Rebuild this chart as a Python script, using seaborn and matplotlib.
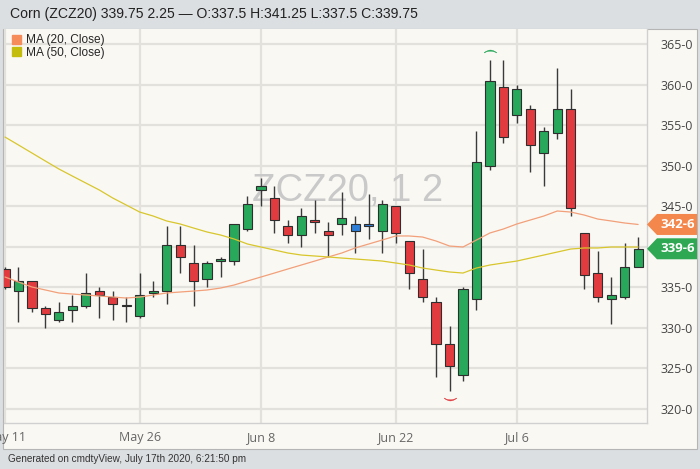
import numpy as np
import pandas as pd
import matplotlib
matplotlib.use('Agg')
import matplotlib.pyplot as plt
import seaborn as sns
from matplotlib.patches import Rectangle, Polygon, Patch

# trading days shown (Memorial Day and Jul 3 closed)
days = pd.bdate_range('2020-05-11', '2020-07-17')
days = days.drop(pd.to_datetime(['2020-05-25', '2020-07-03']))

opens = [337.25, 334.5, 335.75, 332.5, 331.0, 332.25, 332.75, 334.5, 333.75, 332.75,
         331.5, 334.25, 334.5, 340.25, 338.0, 336.0, 338.25, 338.25, 342.25, 347.0,
         346.0, 342.5, 341.5, 343.25, 342.0, 342.75, 342.75, 342.75, 342.0, 345.0,
         340.75, 336.0, 333.25, 328.0, 324.25, 333.5, 350.0, 359.75, 356.25, 357.0,
         351.5, 354.0, 357.0, 341.75, 336.75, 333.5, 333.75, 337.5]
highs = [337.5, 337.5, 335.75, 332.75, 333.25, 334.0, 336.75, 335.0, 334.5, 333.75,
         336.75, 335.75, 342.5, 342.5, 340.25, 338.25, 338.75, 342.75, 346.25, 348.5,
         347.5, 343.25, 344.75, 345.75, 343.0, 346.75, 343.75, 346.5, 345.75, 345.0,
         340.75, 339.75, 333.75, 330.25, 335.0, 354.25, 363.0, 363.0, 360.0, 357.5,
         354.75, 362.0, 359.5, 341.75, 339.5, 336.25, 340.5, 341.25]
lows = [334.75, 330.75, 332.0, 330.0, 330.75, 330.75, 332.5, 331.25, 331.0, 330.75,
        331.25, 333.75, 333.0, 336.75, 332.75, 335.0, 336.25, 337.75, 342.0, 345.0,
        341.75, 340.5, 340.0, 341.75, 338.75, 341.5, 339.25, 341.0, 339.25, 340.5,
        334.75, 333.25, 324.0, 322.25, 323.5, 332.25, 349.5, 352.75, 355.25, 349.25,
        347.5, 353.25, 343.75, 334.75, 333.25, 330.5, 333.5, 337.5]
closes = [335.0, 335.75, 332.5, 331.75, 332.0, 332.75, 334.25, 334.0, 333.0, 332.75,
          334.0, 334.5, 340.25, 338.75, 335.75, 338.0, 338.5, 342.75, 345.25, 347.5,
          343.25, 341.5, 343.75, 343.0, 341.5, 343.5, 342.0, 342.5, 345.25, 341.75,
          336.75, 333.75, 328.0, 325.25, 334.75, 350.5, 360.5, 353.5, 359.5, 352.5,
          354.25, 357.0, 344.75, 336.5, 333.75, 334.0, 337.5, 339.75]
blue_days = [26, 27]

ma20 = [336.27, 335.65, 335.04, 334.67, 334.30, 334.17, 334.05, 333.93, 333.80, 333.68,
        333.80, 334.05, 334.30, 334.42, 334.54, 334.67, 334.91, 335.28, 335.78, 336.27,
        336.76, 337.26, 337.75, 338.24, 338.74, 339.23, 339.85, 340.34, 340.83, 341.33,
        341.33, 341.20, 340.71, 340.09, 339.97, 340.83, 341.70, 342.19, 342.81, 343.30,
        343.79, 344.41, 344.28, 343.91, 343.42, 343.18, 342.93, 342.75]
ma50 = [353.53, 352.55, 351.56, 350.57, 349.59, 348.72, 347.86, 347.00, 346.01, 345.15,
        344.28, 343.79, 343.18, 342.81, 342.31, 341.82, 341.45, 340.96, 340.34, 339.97,
        339.60, 339.23, 338.98, 338.86, 338.74, 338.61, 338.49, 338.37, 338.24, 338.00,
        337.75, 337.38, 337.13, 336.89, 336.76, 337.38, 337.75, 338.00, 338.24, 338.61,
        338.98, 339.35, 339.72, 339.85, 339.85, 339.97, 339.97, 339.97]

tick_dates = ['2020-05-11', '2020-05-26', '2020-06-08', '2020-06-22', '2020-07-06']

df = pd.DataFrame({'date': days, 'open': opens, 'high': highs, 'low': lows,
                   'close': closes, 'ma20': ma20, 'ma50': ma50})
df['x'] = np.arange(len(df))

sns.set_theme(style='white')
plt.rcParams['font.family'] = ['Liberation Sans', 'DejaVu Sans']

W, H = 700, 469
panel_bg = '#faf8f3'
fig = plt.figure(figsize=(7, 4.69), dpi=100, facecolor='#dcdfe2')
fig.patches.append(Rectangle((3 / W, 1 - 449 / H), 694 / W, 420 / H, transform=fig.transFigure,
                             facecolor=panel_bg, edgecolor='#b5b5b5', lw=0.8, zorder=-5))

ax = fig.add_axes([4 / W, 1 - 423 / H, 643 / W, 394 / H], facecolor=panel_bg)
ax.set_zorder(2)

# candle colours
cols = []
for i, r in df.iterrows():
    if i in blue_days:
        cols.append('#2f7fd8')
    elif r['close'] > r['open']:
        cols.append('#27a85a')
    elif r['close'] < r['open']:
        cols.append('#e23b3f')
    else:
        cols.append('#3a3a3a')

body_lo = np.minimum(df['open'], df['close'])
body_h = np.maximum(np.abs(df['close'] - df['open']), 0.12)

ax.vlines(df['x'], df['low'], df['high'], color='#3a3a3a', lw=1.0, zorder=2)
ax.bar(df['x'], body_h, bottom=body_lo, width=0.68, color=cols,
       edgecolor='#2e2e2e', linewidth=0.8, zorder=3)

sns.lineplot(data=df, x='x', y='ma20', color='#f2a07a', lw=0.9, ax=ax, zorder=4)
sns.lineplot(data=df, x='x', y='ma50', color='#d8c62c', lw=0.9, ax=ax, zorder=4)

# high / low markers
hi = int(np.argmax(df['high']))
lo = int(np.argmin(df['low']))
ax.plot(hi, df['high'][hi] + 1.1, marker=r'$\frown$', ms=9, color='#27a85a', mew=0.3)
ax.plot(lo, df['low'][lo] - 1.0, marker=r'$\smile$', ms=9, color='#e23b3f', mew=0.3)

ax.set_xlim(-0.074, 47.66)
ax.set_ylim(318.27, 366.85)

# grid; the 340 label sits under the price tags
yt = np.arange(320, 366, 5)
ax.set_yticks(yt)
ax.set_yticklabels(['' if v == 340 else f'{int(v)}-0' for v in yt])
xt = [int(np.where(days == pd.Timestamp(d))[0][0]) for d in tick_dates]
ax.set_xticks(xt)
ax.set_xticklabels([pd.Timestamp(d).strftime('%b %-d') for d in tick_dates])
ax.yaxis.tick_right()
ax.grid(True, color='#e3e1dc', lw=1.6)
ax.set_axisbelow(True)
ax.tick_params(axis='y', length=0, pad=10, labelsize=9, labelcolor='#444444')
ax.tick_params(axis='x', length=0, pad=6, labelsize=9, labelcolor='#666666')
for lab in ax.get_xticklabels() + ax.get_yticklabels():
    lab.set_family('Open Sans')
for s in ['top', 'left']:
    ax.spines[s].set_visible(False)
for s in ['bottom', 'right']:
    ax.spines[s].set_color('#d0d0d0')
    ax.spines[s].set_linewidth(1.0)
ax.set_xlabel('')
ax.set_ylabel('')

# watermark
ax.text(0.535, 0.59, 'ZCZ20, 1 2', transform=ax.transAxes, fontsize=27.5,
        color='#c9c9c9', ha='center', va='center', zorder=1)

# price tags on the right
trans = ax.get_yaxis_transform()
px_x = 1 / 643
px_y = (366.85 - 318.27) / 394
for val, txt, col in [(ma20[-1], '342-6', '#f4884c'), (closes[-1], '339-6', '#2ea852')]:
    hh = 10.5 * px_y
    pts = [(1.0, val), (1.0 + 10 * px_x, val + hh), (1.0 + 50 * px_x, val + hh),
           (1.0 + 50 * px_x, val - hh), (1.0 + 10 * px_x, val - hh)]
    ax.add_patch(Polygon(pts, closed=True, transform=trans, facecolor=col,
                         edgecolor='none', clip_on=False, zorder=6))
    ax.text(1.0 + 31 * px_x, val, txt, transform=trans, color='white', fontsize=9.5,
            fontweight='bold', family='Open Sans', ha='center', va='center', zorder=7)

# legend
handles = [Patch(color='#f58c5a', label='MA (20, Close)'),
           Patch(color='#c5bd0e', label='MA (50, Close)')]
ax.legend(handles=handles, loc='upper left', bbox_to_anchor=(0.004, 1.0), frameon=False,
          fontsize=8.6, handlelength=0.75, handleheight=0.75, handletextpad=0.4,
          labelspacing=0.05, borderaxespad=0.25, borderpad=0.2)

fig.text(10 / W, 1 - 14 / H, 'Corn (ZCZ20) 339.75 2.25 \u2014 O:337.5 H:341.25 L:337.5 C:339.75',
         fontsize=10.1, color='#222222', va='center', ha='left')
fig.text(8 / W, 1 - 459 / H, 'Generated on cmdtyView, July 17th 2020, 6:21:50 pm',
         fontsize=7.2, color='#333333', va='center', ha='left')

fig.savefig('out.png', dpi=100, facecolor=fig.get_facecolor())
